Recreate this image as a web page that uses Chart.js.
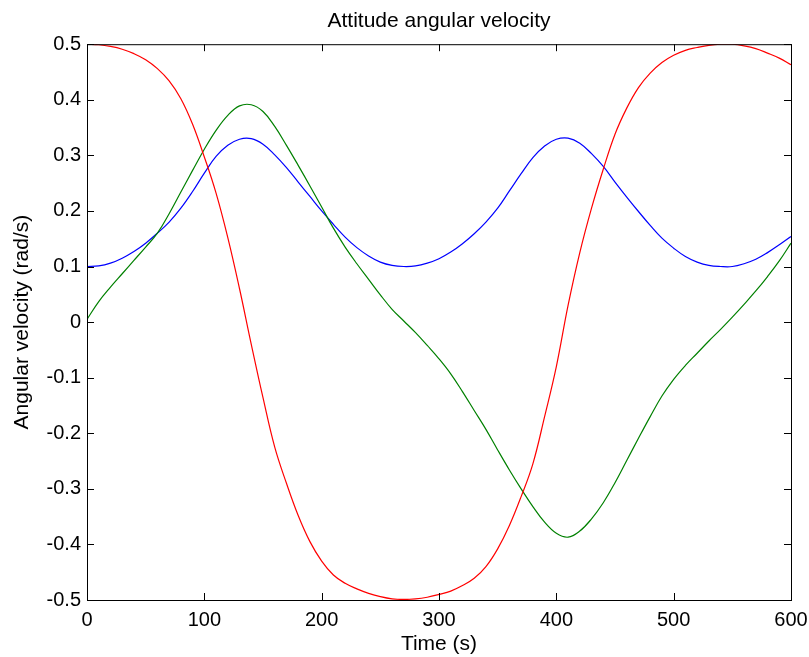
<!DOCTYPE html>
<html>
<head>
<meta charset="utf-8">
<script src="https://cdn.jsdelivr.net/npm/chart.js@4.4.0/dist/chart.umd.min.js"></script>
<style>
body{margin:0;background:#fff;}
canvas{display:block;}
</style>
</head>
<body>
<canvas id="chart" width="809" height="657"></canvas>
<script>
// sample times (s)
const times = [0,10,20,30,40,50,60,70,80,90,100,110,120,130,140,150,160,170,180,190,200,
210,220,230,240,250,260,270,280,290,300,310,320,330,340,350,360,370,380,390,400,
410,420,430,440,450,460,470,480,490,500,510,520,530,540,550,560,570,580,590,600];

// rad/s
const wx = [0.100,0.101,0.106,0.115,0.127,0.142,0.160,0.180,0.205,0.235,0.268,0.298,0.318,0.329,0.330,0.320,0.301,0.278,0.252,0.226,0.200,
0.176,0.153,0.134,0.119,0.108,0.102,0.100,0.101,0.106,0.114,0.126,0.141,0.159,0.180,0.205,0.236,0.267,0.296,0.317,0.329,
0.331,0.322,0.303,0.280,0.252,0.225,0.199,0.174,0.151,0.133,0.118,0.108,0.102,0.100,0.100,0.105,0.113,0.125,0.139,0.154];

const wy = [0.005,0.037,0.063,0.087,0.111,0.135,0.160,0.195,0.234,0.273,0.311,0.345,0.372,0.389,0.391,0.379,0.352,0.318,0.282,0.245,0.207,
0.169,0.135,0.105,0.077,0.049,0.023,0.002,-0.019,-0.042,-0.066,-0.093,-0.125,-0.159,-0.193,-0.230,-0.266,-0.300,-0.332,-0.360,-0.380,
-0.387,-0.376,-0.354,-0.325,-0.289,-0.249,-0.209,-0.170,-0.133,-0.103,-0.078,-0.056,-0.034,-0.013,0.009,0.032,0.056,0.082,0.110,0.142];

const wz = [0.500,0.499,0.496,0.491,0.483,0.472,0.456,0.434,0.402,0.356,0.297,0.232,0.152,0.060,-0.040,-0.136,-0.225,-0.290,-0.348,-0.395,-0.430,
-0.455,-0.470,-0.480,-0.488,-0.494,-0.498,-0.499,-0.498,-0.495,-0.490,-0.484,-0.474,-0.461,-0.440,-0.408,-0.366,-0.314,-0.255,-0.170,-0.080,
0.030,0.125,0.205,0.275,0.338,0.385,0.422,0.448,0.467,0.480,0.489,0.494,0.498,0.500,0.500,0.497,0.492,0.484,0.475,0.463];

const xTicks = [0,100,200,300,400,500,600];
const yTicks = [-0.5,-0.4,-0.3,-0.2,-0.1,0,0.1,0.2,0.3,0.4,0.5];

function pts(vals){ return times.map((t,i)=>({x:t,y:vals[i]})); }

const font = {family:"'Liberation Sans', Arial, sans-serif", size:20};
const bigFont = {family:"'Liberation Sans', Arial, sans-serif", size:21};

// box round the axes with ticks pointing inward, like matlab
const boxPlugin = {
id:'box',
afterDatasetsDraw(chart){
let ctx=chart.ctx, a=chart.chartArea, xs=chart.scales.x, ys=chart.scales.y;
let L=7;
ctx.save();
ctx.strokeStyle='#000'; ctx.lineWidth=1;
ctx.beginPath();
xTicks.forEach(v=>{
let px=Math.round(xs.getPixelForValue(v))+0.5;
ctx.moveTo(px,a.bottom); ctx.lineTo(px,a.bottom-L);
ctx.moveTo(px,a.top); ctx.lineTo(px,a.top+L);
});
yTicks.forEach(v=>{
let py=Math.round(ys.getPixelForValue(v))+0.5;
ctx.moveTo(a.left,py); ctx.lineTo(a.left+L,py);
ctx.moveTo(a.right,py); ctx.lineTo(a.right-L,py);
});
ctx.stroke();
ctx.strokeRect(a.left+0.5,a.top+0.5,a.right-a.left,a.bottom-a.top);
ctx.restore();
}
};

new Chart(document.getElementById('chart'),{
type:'line',
data:{datasets:[
{label:'wz',data:pts(wz),borderColor:'#ff0000'},
{label:'wy',data:pts(wy),borderColor:'#008000'},
{label:'wx',data:pts(wx),borderColor:'#0000ff'}
]},
options:{
responsive:false,
animation:false,
layout:{padding:{left:0,right:18,top:0,bottom:0}},
elements:{
line:{borderWidth:1.2,tension:0.4,fill:false},
point:{radius:0}
},
plugins:{
legend:{display:false},
tooltip:{enabled:false},
title:{display:true,fullSize:false,text:'Attitude angular velocity',color:'#000',font:{...bigFont,weight:'normal'},padding:{top:9,bottom:10}}
},
scales:{
x:{
type:'linear',min:0,max:600,
afterFit(s){ s.height=57; s.paddingLeft=0; s.paddingRight=0; },
afterBuildTicks(s){ s.ticks=xTicks.map(v=>({value:v})); },
grid:{display:false,drawTicks:false},
border:{display:false},
ticks:{color:'#000',font:font,padding:8,maxRotation:0},
title:{display:true,text:'Time (s)',color:'#000',font:bigFont,padding:{top:0,bottom:0}}
},
y:{
type:'linear',min:-0.5,max:0.5,
afterFit(s){ s.width=87; s.paddingTop=0; s.paddingBottom=0; },
afterBuildTicks(s){ s.ticks=yTicks.map(v=>({value:v})); },
grid:{display:false,drawTicks:false},
border:{display:false},
ticks:{color:'#000',font:font,padding:6,callback:v=>String(Math.round(v*10)/10)},
title:{display:true,text:'Angular velocity (rad/s)',color:'#000',font:bigFont,padding:{top:10,bottom:0}}
}
}
},
plugins:[boxPlugin]
});
</script>
</body>
</html>
